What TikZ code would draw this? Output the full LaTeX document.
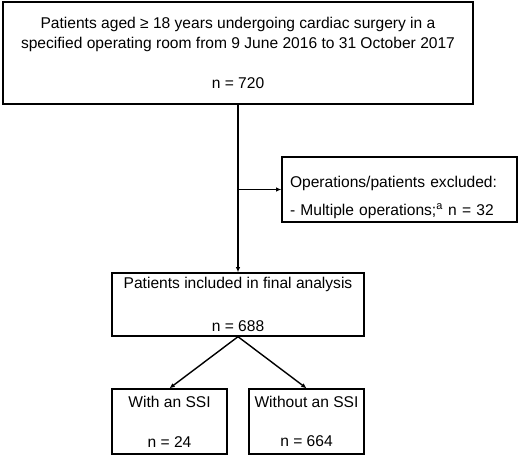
\documentclass[tikz,border=0pt]{standalone}
\usepackage{fontspec}
\setmainfont{Liberation Sans}
\usetikzlibrary{arrows.meta,positioning}

\begin{document}
\begin{tikzpicture}[x=0.03cm,y=-0.03cm,>={Latex[length=4.5pt,width=4pt]},
  box/.style={draw,line width=1.2pt,inner sep=0pt,align=center,font=\fontsize{13.3}{17}\selectfont},
  xbox/.style={box,align=left},
  arr/.style={->,line width=1.2pt}]
  \useasboundingbox (0,0) rectangle (520,456);
  \node[box,minimum width=470*0.03cm,minimum height=102*0.03cm] (all) at (238,53)
    {Patients aged ≥ 18 years undergoing cardiac surgery in a\\
     specified operating room from 9 June 2016 to 31 October 2017\\[17pt]
     n = 720};
  \node[xbox,minimum width=235*0.03cm,minimum height=65*0.03cm,text width=219*0.03cm] (excl) at (399.5,189.5)
    {\rule{0pt}{23pt}Operations/patients excluded:\\[7pt]
     - Multiple operations;\textsuperscript{a} n = 32};
  \node[box,minimum width=252*0.03cm,minimum height=63*0.03cm] (incl) at (238,304.5)
    {Patients included in final analysis\\[20pt]
     n = 688};
  \node[box,minimum width=115*0.03cm,minimum height=65*0.03cm] (ssi) at (169.5,421.5)
    {With an SSI\\[17pt]
     n = 24};
  \node[box,minimum width=115*0.03cm,minimum height=65*0.03cm] (nossi) at (306.5,421.5)
    {Without an SSI\\[17pt]
     n = 664};
  \draw[arr] (all.south) -- (incl.north);
  \draw[arr] (all.south |- excl.west) -- (excl.west);
  \draw[arr] (incl.south) -- (ssi.north);
  \draw[arr] (incl.south) -- (nossi.north);
\end{tikzpicture}
\end{document}
